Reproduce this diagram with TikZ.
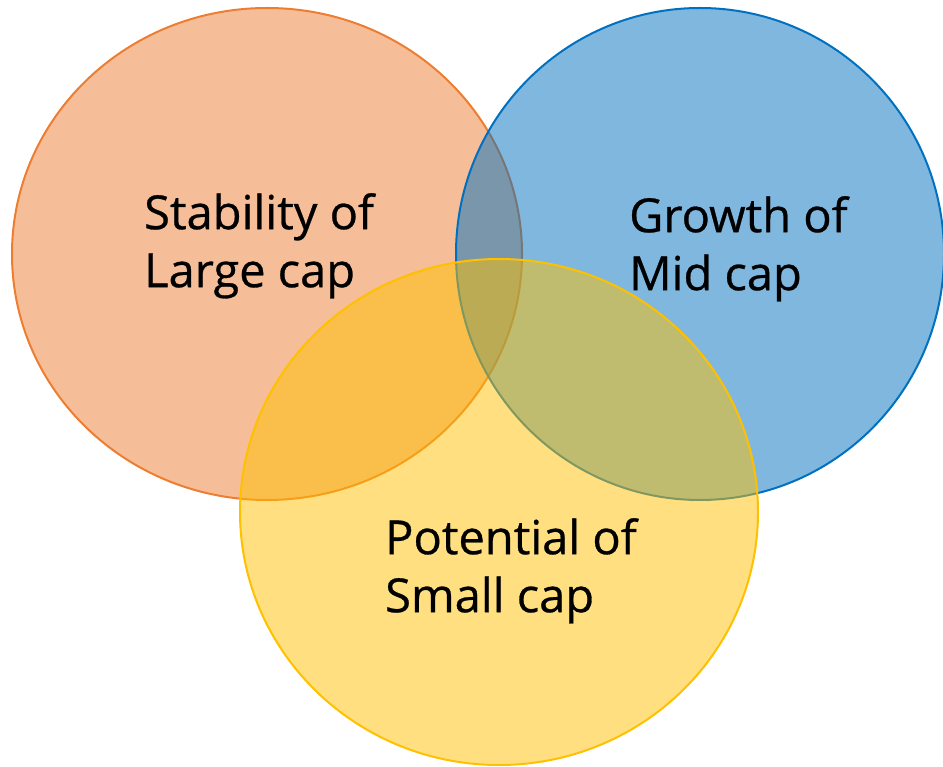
\documentclass[tikz,border=0pt]{standalone}
\usepackage{fontspec}
\setmainfont{Open Sans}
\newfontfamily\lblfont{Open Sans}[BoldFont={Open Sans},BoldFeatures={FakeBold=0.6}]
\definecolor{orA}{HTML}{ED7D31}
\definecolor{blA}{HTML}{0070C0}
\definecolor{ylA}{HTML}{FFC000}
\tikzset{
  venn/.style={line width=2pt, fill opacity=0.5, draw opacity=1},
  lbl/.style={anchor=north west, align=left, inner sep=0pt, font=\lblfont\bfseries\fontsize{47}{58}\selectfont, text=black}
}
\begin{document}
\begin{tikzpicture}[x=1pt,y=-1pt]
\useasboundingbox (0,0) rectangle (943,767);
\draw[venn, draw=orA, fill=orA] (267,254) ellipse [x radius=255, y radius=246];
\draw[venn, draw=blA, fill=blA] (700,254) ellipse [x radius=244, y radius=246];
\draw[venn, draw=ylA, fill=ylA] (499,512) ellipse [x radius=259, y radius=253];
\node[lbl] (large) at (144,193) {Stability of\\Large cap};
\node[lbl] (mid) at (629,196) {Growth of\\Mid cap};
\node[lbl] (small) at (385,518) {Potential of\\Small cap};
\end{tikzpicture}
\end{document}
